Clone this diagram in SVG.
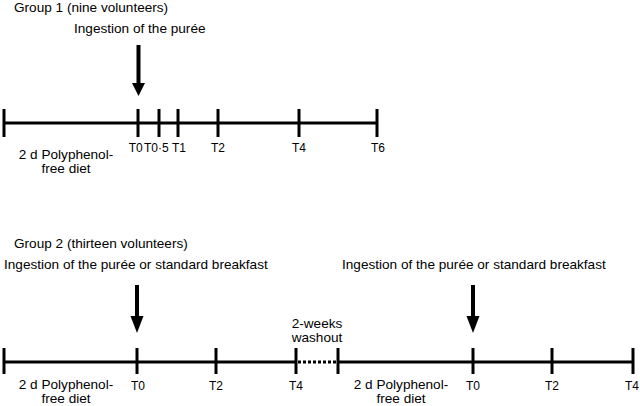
<svg xmlns="http://www.w3.org/2000/svg" width="640" height="406" viewBox="0 0 640 406">
<style>
text{font-family:"Liberation Sans",Arial,sans-serif;font-size:13.6px;fill:#000}
.c{text-anchor:middle}
.t{text-anchor:middle;font-size:12px}
.ax{stroke:#000;stroke-width:3;fill:none}
.tk{stroke:#000;stroke-width:3}
.dot{stroke:#000;stroke-width:3;stroke-dasharray:3 2}
.arr{fill:#000}
</style>
<rect width="640" height="406" fill="#fff"/>
<g id="group1">
<text x="14" y="12">Group 1 (nine volunteers)</text>
<text x="74" y="33">Ingestion of the purée</text>
<g id="arrow1" class="arr"><rect x="136.5" y="45" width="4" height="39"/><polygon points="132,83 145,83 138.5,96"/></g>
<g id="timeline1">
<line class="ax" x1="4" y1="123" x2="377" y2="123"/>
<line class="tk" x1="4" y1="109" x2="4" y2="137"/>
<line class="tk" x1="138" y1="109" x2="138" y2="137"/>
<line class="tk" x1="159" y1="109" x2="159" y2="137"/>
<line class="tk" x1="178" y1="109" x2="178" y2="137"/>
<line class="tk" x1="218" y1="109" x2="218" y2="137"/>
<line class="tk" x1="299" y1="109" x2="299" y2="137"/>
<line class="tk" x1="377" y1="109" x2="377" y2="137"/>
</g>
<text class="t" x="135.7" y="152">T0</text>
<text class="t" x="156.3" y="152">T0·5</text>
<text class="t" x="179" y="152">T1</text>
<text class="t" x="218" y="152">T2</text>
<text class="t" x="299" y="152">T4</text>
<text class="t" x="378" y="152">T6</text>
<text class="c" x="66" y="159">2 d Polyphenol-</text>
<text class="c" x="66" y="173">free diet</text>
</g>
<g id="group2">
<text x="14" y="248">Group 2 (thirteen volunteers)</text>
<text x="4" y="269">Ingestion of the purée or standard breakfast</text>
<text x="342" y="269">Ingestion of the purée or standard breakfast</text>
<g id="arrow2" class="arr"><rect x="135" y="285" width="4" height="32"/><polygon points="130.5,316 143.5,316 137,333"/></g>
<g id="arrow3" class="arr"><rect x="471" y="285" width="4" height="32"/><polygon points="466.5,316 479.5,316 473,333"/></g>
<g id="timeline2">
<line class="ax" x1="4" y1="362" x2="296" y2="362"/>
<line class="dot" x1="298" y1="362" x2="337" y2="362"/>
<line class="ax" x1="338" y1="362" x2="633" y2="362"/>
<line class="tk" x1="4" y1="348" x2="4" y2="374"/>
<line class="tk" x1="137" y1="348" x2="137" y2="374"/>
<line class="tk" x1="216" y1="348" x2="216" y2="374"/>
<line class="tk" x1="296" y1="348" x2="296" y2="374"/>
<line class="tk" x1="338" y1="348" x2="338" y2="374"/>
<line class="tk" x1="473" y1="348" x2="473" y2="374"/>
<line class="tk" x1="552" y1="348" x2="552" y2="374"/>
<line class="tk" x1="633" y1="348" x2="633" y2="374"/>
</g>
<text class="c" x="317" y="328">2-weeks</text>
<text class="c" x="317" y="342">washout</text>
<text class="t" x="138" y="390">T0</text>
<text class="t" x="216" y="390">T2</text>
<text class="t" x="296" y="390">T4</text>
<text class="t" x="473" y="390">T0</text>
<text class="t" x="552" y="390">T2</text>
<text class="t" x="632" y="390">T4</text>
<text class="c" x="66" y="389">2 d Polyphenol-</text>
<text class="c" x="66" y="403">free diet</text>
<text class="c" x="401" y="389">2 d Polyphenol-</text>
<text class="c" x="401" y="403">free diet</text>
</g>
</svg>
